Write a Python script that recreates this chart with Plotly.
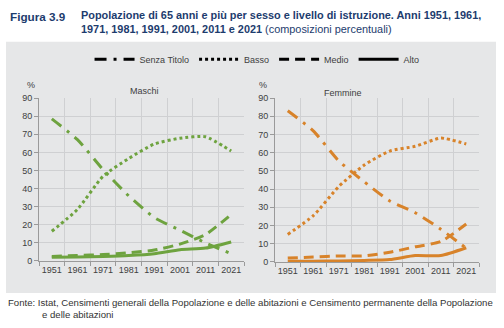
import plotly.graph_objects as go

years = ["1951", "1961", "1971", "1981", "1991", "2001", "2011", "2021"]
series_names = ["Senza Titolo", "Basso", "Medio", "Alto"]

maschi_senza = [78.5, 67.0, 50.5, 36.0, 24.0, 17.0, 10.0, 4.0]
maschi_basso = [16.4, 28.5, 46.8, 56.6, 64.6, 67.8, 68.6, 60.7]
maschi_medio = [2.5, 3.0, 3.5, 4.5, 6.0, 9.3, 14.6, 25.7]
maschi_alto = [2.0, 2.2, 2.5, 3.0, 4.0, 6.2, 7.1, 10.5]

femmine_senza = [83.0, 72.0, 55.5, 44.0, 33.5, 27.0, 18.0, 7.5]
femmine_basso = [15.1, 25.4, 41.4, 53.2, 60.9, 63.5, 68.0, 64.8]
femmine_medio = [2.1, 2.7, 3.3, 3.3, 5.3, 8.3, 11.2, 20.8]
femmine_alto = [0.3, 0.4, 0.5, 0.8, 1.3, 3.5, 3.5, 7.8]

GREEN = "#6ea33f"
ORANGE = "#d8832a"
PANEL = "#e6e7e8"
GRID = "#cfd0d2"
TXT = "#404040"
FONT = "Liberation Sans, Arial, sans-serif"

dashes = {
    "Senza Titolo": "12px,7px,3px,7px",
    "Basso": "dot",
    "Medio": "10px,6px",
    "Alto": "solid",
}
widths = {"Senza Titolo": 3, "Basso": 3, "Medio": 3, "Alto": 3}

fig = go.Figure()

for vals, name in zip([maschi_senza, maschi_basso, maschi_medio, maschi_alto], series_names):
    fig.add_trace(go.Scatter(x=years, y=vals, mode="lines", name=name, showlegend=False,
                             line=dict(color=GREEN, width=widths[name], dash=dashes[name], shape="spline", smoothing=0.6),
                             xaxis="x", yaxis="y"))
for vals, name in zip([femmine_senza, femmine_basso, femmine_medio, femmine_alto], series_names):
    fig.add_trace(go.Scatter(x=years, y=vals, mode="lines", name=name, showlegend=False,
                             line=dict(color=ORANGE, width=widths[name], dash=dashes[name], shape="spline", smoothing=0.6),
                             xaxis="x2", yaxis="y2"))
# legend entries in black
for name in series_names:
    fig.add_trace(go.Scatter(x=[None], y=[None], mode="lines", name=name, showlegend=True,
                             line=dict(color="black", width=3, dash=dashes[name]),
                             xaxis="x", yaxis="y"))

W, H = 504, 328
def px(x):
    return x / W
def py(y):
    return 1 - y / H

xcommon = dict(type="category", range=[-0.5, 7.5], tickson="boundaries", showgrid=True,
               gridcolor=GRID, gridwidth=1, showline=True, linecolor="#9a9a9a", ticks="outside",
               ticklen=4, tickcolor="#9a9a9a", tickangle=0, tickfont=dict(size=9, color=TXT, family=FONT),
               zeroline=False, fixedrange=True)
ycommon = dict(range=[0, 90], dtick=10, showgrid=True, gridcolor=GRID, gridwidth=1,
               showline=True, linecolor="#9a9a9a", ticks="outside", ticklen=4, tickcolor="#9a9a9a",
               tickfont=dict(size=9, color=TXT, family=FONT), zeroline=False, fixedrange=True)

fig.update_layout(
    width=W, height=H,
    margin=dict(l=0, r=0, t=0, b=0),
    paper_bgcolor="white",
    plot_bgcolor=PANEL,
    font=dict(family=FONT, color=TXT, size=10),
    xaxis=dict(domain=[px(39), px(244)], anchor="y", **xcommon),
    yaxis=dict(domain=[py(264), py(96)], anchor="x", **ycommon),
    xaxis2=dict(domain=[px(275), px(479)], anchor="y2", **xcommon),
    yaxis2=dict(domain=[py(265), py(96)], anchor="x2", **ycommon),
    showlegend=True,
    legend=dict(orientation="h", x=0.51, xanchor="center", y=py(56), yanchor="middle",
                bgcolor="rgba(0,0,0,0)", font=dict(size=9, color=TXT, family=FONT),
                itemwidth=40, tracegroupgap=0),
    shapes=[dict(type="rect", xref="paper", yref="paper", x0=px(6), x1=px(496), y0=py(297), y1=py(38),
                 fillcolor=PANEL, line=dict(width=0), layer="below")],
)

ann = []
ann.append(dict(text="<b>Figura 3.9</b>", x=px(8), y=py(12), xref="paper", yref="paper",
                xanchor="left", yanchor="middle", showarrow=False,
                font=dict(size=11.7, color="#1d3c6e", family=FONT)))
ann.append(dict(text="<b>Popolazione di 65 anni e più per sesso e livello di istruzione. Anni 1951, 1961,<br>"
                     "1971, 1981, 1991, 2001, 2011 e 2021</b> (composizioni percentuali)",
                x=px(79), y=py(18), xref="paper", yref="paper", xanchor="left", yanchor="middle",
                align="left", showarrow=False, font=dict(size=10.9, color="#1d3c6e", family=FONT)))
ann.append(dict(text="Maschi", x=px(128), y=py(81), xref="paper", yref="paper", showarrow=False,
                font=dict(size=9, color=TXT, family=FONT)))
ann.append(dict(text="Femmine", x=px(364), y=py(84), xref="paper", yref="paper", showarrow=False,
                font=dict(size=9, color=TXT, family=FONT)))
ann.append(dict(text="%", x=px(25), y=py(82), xref="paper", yref="paper", showarrow=False,
                yanchor="middle", font=dict(size=9, color=TXT, family=FONT)))
ann.append(dict(text="%", x=px(263), y=py(82), xref="paper", yref="paper", showarrow=False,
                yanchor="middle", font=dict(size=9, color=TXT, family=FONT)))
ann.append(dict(text="Fonte: Istat, Censimenti generali della Popolazione e delle abitazioni e Censimento permanente della Popolazione",
                x=px(6), y=py(307), xref="paper", yref="paper", xanchor="left", yanchor="middle",
                showarrow=False, font=dict(size=9.6, color="#333333", family=FONT)))
ann.append(dict(text="e delle abitazioni",
                x=px(40), y=py(319), xref="paper", yref="paper", xanchor="left", yanchor="middle",
                showarrow=False, font=dict(size=9.6, color="#333333", family=FONT)))
fig.update_layout(annotations=ann)

fig.write_html("out.html")
